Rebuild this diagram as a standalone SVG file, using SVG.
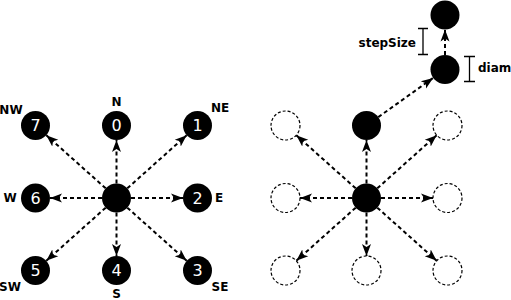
<svg xmlns="http://www.w3.org/2000/svg" width="511" height="300" viewBox="0 0 511 300">
  <style>
    .node { fill: #000; }
    .ghost { fill: #fff; stroke: #000; stroke-width: 1.2; stroke-dasharray: 3 2; }
    .num { fill: #fff; font-family: "DejaVu Sans", sans-serif; font-size: 16px; text-anchor: middle; }
    .lbl { fill: #000; font-family: "DejaVu Sans", sans-serif; font-weight: bold; font-size: 12px; }
    .mid { text-anchor: middle; }
    .arrow { fill: none; stroke: #000; stroke-width: 2; stroke-dasharray: 4 3; marker-end: url(#head); }
    .dim { fill: none; stroke: #000; stroke-width: 1.3; }
  </style>
  <defs>
    <marker id="head" markerUnits="userSpaceOnUse" markerWidth="13" markerHeight="11" refX="12" refY="5.5" orient="auto">
      <path d="M0,1 L12,5.5 L0,10 L3,5.5 z" fill="#000"/>
    </marker>
  </defs>

  <!-- connectors -->
  <g id="connectors">
    <!-- left compass -->
    <line class="arrow" x1="116.5" y1="183.5" x2="116.5" y2="140"/>
    <line class="arrow" x1="127.3" y1="188.3" x2="186.7" y2="135.2"/>
    <line class="arrow" x1="131" y1="198" x2="183" y2="198"/>
    <line class="arrow" x1="127.3" y1="207.7" x2="186.7" y2="260.8"/>
    <line class="arrow" x1="116.5" y1="212.5" x2="116.5" y2="256"/>
    <line class="arrow" x1="105.7" y1="207.7" x2="46.3" y2="260.8"/>
    <line class="arrow" x1="102" y1="198" x2="50" y2="198"/>
    <line class="arrow" x1="105.7" y1="188.3" x2="46.3" y2="135.2"/>
    <!-- right compass -->
    <line class="arrow" x1="366.5" y1="183.5" x2="366.5" y2="140"/>
    <line class="arrow" x1="377.3" y1="188.3" x2="436.7" y2="135.2"/>
    <line class="arrow" x1="381" y1="198" x2="433" y2="198"/>
    <line class="arrow" x1="377.3" y1="207.7" x2="436.7" y2="260.8"/>
    <line class="arrow" x1="366.5" y1="212.5" x2="366.5" y2="256"/>
    <line class="arrow" x1="355.7" y1="207.7" x2="296.3" y2="260.8"/>
    <line class="arrow" x1="352" y1="198" x2="300" y2="198"/>
    <line class="arrow" x1="355.7" y1="188.3" x2="296.3" y2="135.2"/>
    <!-- stepping chain -->
    <line class="arrow" x1="378.3" y1="117.1" x2="433.2" y2="77.9"/>
    <line class="arrow" x1="445" y1="55" x2="445" y2="29.5"/>
  </g>

  <!-- left compass nodes -->
  <g id="center-left"><circle class="node" cx="116.5" cy="198" r="14.5"/></g>
  <g id="n0"><circle class="node" cx="116.5" cy="125.5" r="14.5"/><text class="num" x="116.5" y="131.3">0</text></g>
  <g id="n1"><circle class="node" cx="197.5" cy="125.5" r="14.5"/><text class="num" x="197.5" y="131.3">1</text></g>
  <g id="n2"><circle class="node" cx="197.5" cy="198" r="14.5"/><text class="num" x="197.5" y="203.8">2</text></g>
  <g id="n3"><circle class="node" cx="197.5" cy="270.5" r="14.5"/><text class="num" x="197.5" y="276.3">3</text></g>
  <g id="n4"><circle class="node" cx="116.5" cy="270.5" r="14.5"/><text class="num" x="116.5" y="276.3">4</text></g>
  <g id="n5"><circle class="node" cx="35.5" cy="270.5" r="14.5"/><text class="num" x="35.5" y="276.3">5</text></g>
  <g id="n6"><circle class="node" cx="35.5" cy="198" r="14.5"/><text class="num" x="35.5" y="203.8">6</text></g>
  <g id="n7"><circle class="node" cx="35.5" cy="125.5" r="14.5"/><text class="num" x="35.5" y="131.3">7</text></g>

  <!-- direction labels -->
  <g id="labels">
    <text class="lbl mid" x="116.5" y="106">N</text>
    <text class="lbl mid" x="220" y="112">NE</text>
    <text class="lbl mid" x="219" y="202">E</text>
    <text class="lbl mid" x="220" y="291">SE</text>
    <text class="lbl mid" x="116.5" y="298">S</text>
    <text class="lbl mid" x="10" y="291">SW</text>
    <text class="lbl mid" x="10" y="202">W</text>
    <text class="lbl mid" x="11" y="114">NW</text>
  </g>

  <!-- right compass: candidate positions -->
  <g id="center-right"><circle class="node" cx="366.5" cy="198" r="14.5"/></g>
  <g id="c-n"><circle class="node" cx="366.5" cy="125.5" r="14.5"/></g>
  <g id="c-ne"><circle class="ghost" cx="447.5" cy="125.5" r="14.5"/></g>
  <g id="c-e"><circle class="ghost" cx="447.5" cy="198" r="14.5"/></g>
  <g id="c-se"><circle class="ghost" cx="447.5" cy="270.5" r="14.5"/></g>
  <g id="c-s"><circle class="ghost" cx="366.5" cy="270.5" r="14.5"/></g>
  <g id="c-sw"><circle class="ghost" cx="285.5" cy="270.5" r="14.5"/></g>
  <g id="c-w"><circle class="ghost" cx="285.5" cy="198" r="14.5"/></g>
  <g id="c-nw"><circle class="ghost" cx="285.5" cy="125.5" r="14.5"/></g>

  <!-- stepped nodes -->
  <g id="step1"><circle class="node" cx="445" cy="69.5" r="14.5"/></g>
  <g id="step2"><circle class="node" cx="445" cy="15" r="14.5"/></g>

  <!-- dimension markers -->
  <g id="stepSize">
    <path class="dim" d="M418,28.5 H428 M423,28.5 V54.5 M418,54.5 H428"/>
    <text class="lbl" x="416" y="47" text-anchor="end">stepSize</text>
  </g>
  <g id="diam">
    <path class="dim" d="M464,56.5 H475 M469.5,56.5 V81.5 M464,81.5 H475"/>
    <text class="lbl" x="478" y="72">diam</text>
  </g>
</svg>
